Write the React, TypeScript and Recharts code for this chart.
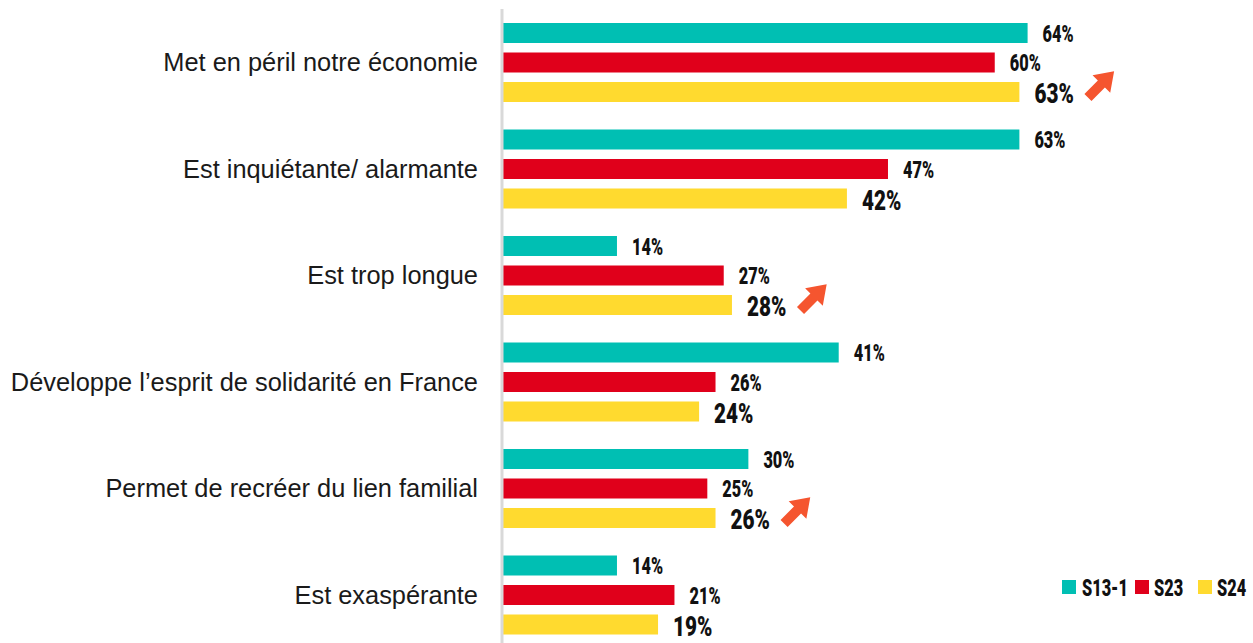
import { BarChart, Bar, XAxis, YAxis, LabelList, Legend } from "recharts";

const categories = [
  "Met en péril notre économie",
  "Est inquiétante/ alarmante",
  "Est trop longue",
  "Développe l’esprit de solidarité en France",
  "Permet de recréer du lien familial",
  "Est exaspérante",
];
const s13 = [64, 63, 14, 41, 30, 14];
const s23 = [60, 47, 27, 26, 25, 21];
const s24 = [63, 42, 28, 24, 26, 19];
// orange arrows shown next to the latest wave
const s24Up = [true, false, true, false, true, false];

const seriesNames = ["S13-1", "S23", "S24"];
const COLORS = ["#00BFB3", "#E0001B", "#FFDA2F"];
const ARROW = "#F5552F";
// no condensed font installed: squeeze a bold one horizontally
const NUM_FONT = "Roboto, 'DejaVu Sans', sans-serif";

const rows = categories.map((name, i) => ({ name, s13: s13[i], s23: s23[i], s24: s24[i] }));

const Narrow = ({ x, y, size, sx, children }: any) => (
  <text
    transform={`translate(${x},${y}) scale(${sx},1)`}
    x={0}
    y={0}
    dy="0.36em"
    fontFamily={NUM_FONT}
    fontWeight={900}
    fontSize={size}
    fill="#111"
  >
    {children}
  </text>
);

const SmallLabel = (props: any) => {
  const vb = props.viewBox || props;
  const { x, y, width, height } = vb;
  return (
    <Narrow x={x + width + 15} y={y + height / 2} size={24} sx={0.68}>
      {props.value}%
    </Narrow>
  );
};

const Arrow = ({ cx, cy }: { cx: number; cy: number }) => (
  <polygon
    points="-19,-5 0,-5 0,-12.5 18,0 0,12.5 0,5 -19,5"
    fill={ARROW}
    transform={`translate(${cx},${cy}) rotate(-45)`}
  />
);

const BigLabel = (props: any) => {
  const vb = props.viewBox || props;
  const { x, y, width, height } = vb;
  const end = x + width;
  const cy = y + height / 2;
  return (
    <g>
      <Narrow x={end + 15} y={cy + 1} size={28} sx={0.74}>
        {props.value}%
      </Narrow>
      {s24Up[props.index] && <Arrow cx={end + 82} cy={cy - 8} />}
    </g>
  );
};

const legendPos = [
  { box: 2, text: 22 },
  { box: 75, text: 94 },
  { box: 138, text: 157 },
];

const LegendBox = () => (
  <svg width={195} height={24} style={{ display: "block", overflow: "visible" }}>
    {seriesNames.map((n, i) => (
      <g key={n}>
        <rect x={legendPos[i].box} y={5} width={14} height={14} fill={COLORS[i]} />
        <Narrow x={legendPos[i].text} y={12.5} size={24} sx={0.68}>
          {n}
        </Narrow>
      </g>
    ))}
  </svg>
);

export default function App() {
  return (
    <div style={{ position: "absolute", left: 0, top: 0, background: "#fff" }}>
      <BarChart
        width={1253}
        height={650}
        data={rows}
        layout="vertical"
        barSize={20}
        barGap={9.5}
        margin={{ top: 9, right: 94, bottom: 2, left: 0 }}
      >
        <XAxis type="number" hide domain={[0, 80]} />
        <YAxis
          type="category"
          dataKey="name"
          width={502}
          tickLine={false}
          tickSize={0}
          tickMargin={24}
          axisLine={{ stroke: "#D9D9D9", strokeWidth: 3 }}
          tick={{ fill: "#1A1A1A", fontSize: 25.4, fontFamily: "'Liberation Sans', Arial, sans-serif" }}
        />
        <Legend
          layout="horizontal"
          verticalAlign="middle"
          align="center"
          content={<LegendBox />}
          wrapperStyle={{ left: 1060, top: 575, width: "auto" }}
        />
        <Bar dataKey="s13" name={seriesNames[0]} fill={COLORS[0]} isAnimationActive={false}>
          <LabelList dataKey="s13" content={<SmallLabel />} />
        </Bar>
        <Bar dataKey="s23" name={seriesNames[1]} fill={COLORS[1]} isAnimationActive={false}>
          <LabelList dataKey="s23" content={<SmallLabel />} />
        </Bar>
        <Bar dataKey="s24" name={seriesNames[2]} fill={COLORS[2]} isAnimationActive={false}>
          <LabelList dataKey="s24" content={<BigLabel />} />
        </Bar>
      </BarChart>
    </div>
  );
}
